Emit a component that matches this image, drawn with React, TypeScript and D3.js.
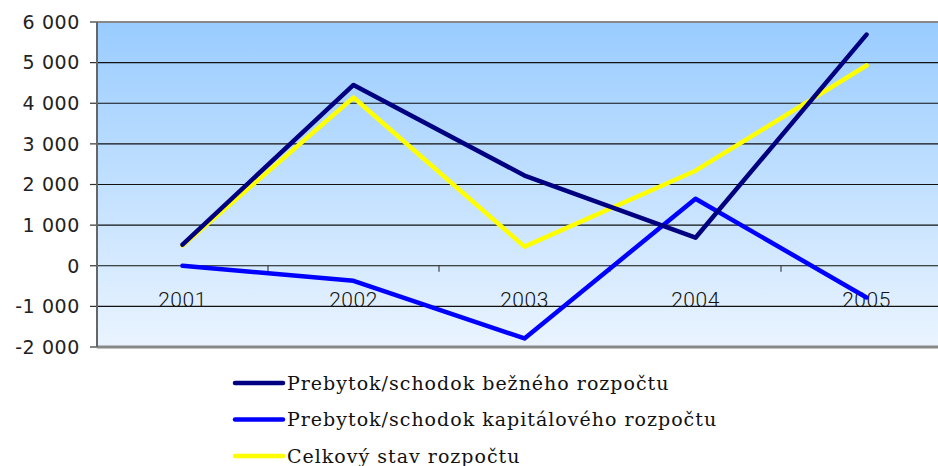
import React from 'react';
import { scaleBand, scaleLinear, line } from 'd3';

const years = ['2001', '2002', '2003', '2004', '2005'];
const bezny = [520, 4450, 2220, 690, 5690];
const kapitalovy = [0, -370, -1790, 1650, -780];
const celkovy = [500, 4140, 470, 2340, 4930];
const yTicks = [-2000, -1000, 0, 1000, 2000, 3000, 4000, 5000, 6000];

const series = [
  { name: 'Prebytok/schodok bežného rozpočtu', values: bezny, color: '#000080' },
  { name: 'Prebytok/schodok kapitálového rozpočtu', values: kapitalovy, color: '#0000FF' },
  { name: 'Celkový stav rozpočtu', values: celkovy, color: '#FFFF00' },
];

const W = 938;
const H = 466;
const left = 97;
const top = 22;
const bottom = 347;
const band = 171;

const fmt = (v: number) => {
  const s = Math.abs(v).toString().replace(/\B(?=(\d{3})+(?!\d))/g, ' ');
  return (v < 0 ? '-' : '') + s;
};

export default function App() {
  const x = scaleBand<string>().domain(years).range([left, left + band * years.length]);
  const y = scaleLinear().domain([-2000, 6000]).range([bottom, top]);
  const cx = (yr: string) => (x(yr) as number) + x.bandwidth() / 2;

  // yellow underneath, navy on top
  const drawOrder = [series[2], series[1], series[0]];

  return (
    <svg width={W} height={H} style={{ position: 'absolute', left: 0, top: 0, background: '#fff' }}>
      <defs>
        <linearGradient id="bg" x1="0" y1="0" x2="0" y2="1">
          <stop offset="0%" stopColor="#99CCFF" />
          <stop offset="100%" stopColor="#EAF4FF" />
        </linearGradient>
      </defs>
      <rect x={left} y={top} width={W - left} height={bottom - top} fill="url(#bg)" />
      {yTicks.map(t => (
        <g key={t}>
          {t !== -2000 && t !== 6000 && (
            <line x1={left} x2={W} y1={y(t)} y2={y(t)} stroke="#111" strokeWidth={1.2} />
          )}
          <line x1={left - 7} x2={left} y1={y(t)} y2={y(t)} stroke="#333" strokeWidth={1.2} />
          <text
            x={80}
            y={y(t)}
            dy="0.36em"
            textAnchor="end"
            fontFamily="DejaVu Sans, Verdana, sans-serif"
            fontSize={19}
            letterSpacing={0.6}
            fill="#222"
          >
            {fmt(t)}
          </text>
        </g>
      ))}
      {years.slice(1).map(yr => (
        <line key={yr} x1={x(yr)} x2={x(yr)} y1={y(0)} y2={y(0) + 6} stroke="#222" strokeWidth={1} />
      ))}
      <line x1={left} x2={W} y1={top} y2={top} stroke="#888" strokeWidth={2} />
      <line x1={left} x2={W} y1={bottom} y2={bottom} stroke="#888" strokeWidth={3} />
      <line x1={left} x2={left} y1={top} y2={bottom} stroke="#666" strokeWidth={2} />
      {years.map(yr => (
        <text
          key={yr}
          x={cx(yr)}
          y={307}
          textAnchor="middle"
          fontFamily="Roboto, sans-serif"
          fontWeight={300}
          fontSize={21}
          letterSpacing={0.5}
          fill="#111"
        >
          {yr}
        </text>
      ))}
      {drawOrder.map(s => {
        const path = line<number>()
          .x((_, i) => cx(years[i]))
          .y(d => y(d))(s.values);
        return (
          <path
            key={s.name}
            d={path || ''}
            fill="none"
            stroke={s.color}
            strokeWidth={4.5}
            strokeLinecap="round"
            strokeLinejoin="round"
          />
        );
      })}
      {series.map((s, i) => {
        const ly = 383 + i * 36.5;
        return (
          <g key={s.name}>
            <line x1={235} x2={283} y1={ly} y2={ly} stroke={s.color} strokeWidth={4.5} strokeLinecap="round" />
            <text
              x={287}
              y={ly}
              dy="0.35em"
              fontFamily="DejaVu Serif, serif"
              fontSize={19}
              letterSpacing={1}
              fill="#111"
            >
              {s.name}
            </text>
          </g>
        );
      })}
    </svg>
  );
}
